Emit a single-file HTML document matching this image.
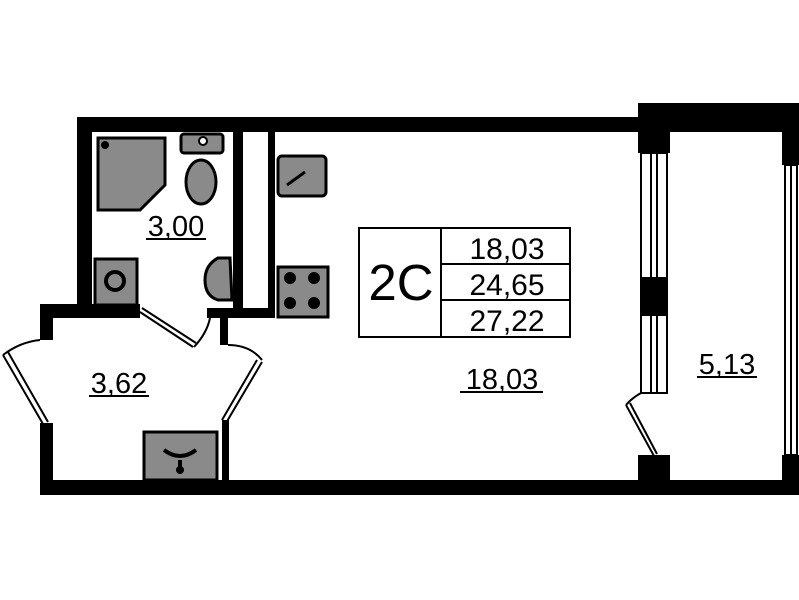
<!DOCTYPE html>
<html><head><meta charset="utf-8"><style>
html,body{margin:0;padding:0;background:#fff;}
svg{display:block;}
text{font-family:"Liberation Sans",Arial,sans-serif;fill:#000;}
</style></head><body>
<svg width="799" height="600" viewBox="0 0 799 600" xmlns="http://www.w3.org/2000/svg">
<rect width="799" height="600" fill="#fff"/>
<g fill="#000">
<rect x="77" y="117" width="563" height="15"/>
<rect x="77" y="117" width="15" height="201"/>
<rect x="40" y="304" width="100" height="14"/>
<rect x="40" y="304" width="13" height="36"/>
<rect x="40" y="423" width="13" height="72"/>
<rect x="40" y="480" width="759" height="15"/>
<rect x="233" y="117" width="10" height="201"/>
<rect x="268" y="117" width="7" height="201"/>
<rect x="233" y="308" width="42" height="10"/>
<rect x="207" y="308" width="30" height="10"/>
<rect x="220" y="308" width="8" height="37"/>
<rect x="222" y="420" width="7" height="62"/>
<rect x="638" y="103" width="161" height="29"/>
<rect x="638" y="103" width="32" height="50"/>
<rect x="782" y="103" width="17" height="62"/>
<rect x="640" y="278" width="28" height="37"/>
<rect x="638" y="455" width="32" height="40"/>
<rect x="782" y="455" width="17" height="40"/>
</g>
<g fill="none" stroke="#000" stroke-width="2">
<rect x="641" y="153" width="26" height="125"/>
<line x1="651" y1="153" x2="651" y2="278"/><line x1="657" y1="153" x2="657" y2="278"/>
<rect x="641" y="315" width="26" height="78"/>
<line x1="651" y1="315" x2="651" y2="393"/><line x1="657" y1="315" x2="657" y2="393"/>
<rect x="785" y="165" width="12" height="290"/>
<line x1="791" y1="165" x2="791" y2="455"/>
<path d="M641 393 Q632 398 626 405"/>
<path d="M626 405 L654 456 M630 403 L657 454"/>
<path d="M3 355 L43 424 M8 352 L48 422"/>
<path d="M3 355 Q20 342 40 340"/>
<path d="M262 362 L226 423 M257 360 L222 420"/>
<path d="M228 345 Q250 345 262 360"/>
<path d="M140 312 L193 347 M142 308 L196 343"/>
<path d="M194 347 Q207 333 210 318"/>
</g>
<g stroke="#000" stroke-width="3" fill="#8a8a8a">
<polygon points="98,138 165,138 165,185 140,210 98,210"/>
<rect x="181" y="134" width="42" height="19" rx="3"/>
<ellipse cx="201" cy="182" rx="15" ry="22"/>
<rect x="95" y="259" width="42" height="46"/>
<path d="M230 258 L218 258 Q205 265 205 280 Q205 296 218 300 L232 300 Z"/>
<rect x="278" y="156" width="48" height="40" rx="4"/>
<rect x="278" y="267" width="50" height="50"/>
<rect x="144" y="432" width="73" height="48"/>
</g>
<g fill="#000">
<circle cx="105" cy="145" r="4"/><circle cx="203" cy="141" r="4" fill="#fff" stroke="#000" stroke-width="2"/>
<circle cx="115" cy="281" r="9" fill="none" stroke="#000" stroke-width="4"/>
<circle cx="290" cy="278" r="6"/><circle cx="314" cy="278" r="6"/><circle cx="290" cy="303" r="6"/><circle cx="314" cy="303" r="6"/>
<circle cx="180" cy="470" r="4"/>
</g>
<path d="M164 450 Q180 462 196 450 M180 460 L180 470" stroke="#000" stroke-width="4" fill="none"/>
<path d="M287 185 L305 172" stroke="#000" stroke-width="3"/>
<g fill="none" stroke="#000" stroke-width="2">
<rect x="359" y="228" width="211" height="109"/>
<line x1="441" y1="228" x2="441" y2="337"/>
<line x1="441" y1="264" x2="570" y2="264"/>
<line x1="441" y1="300" x2="570" y2="300"/>
</g>
<text x="401" y="300" font-size="51" text-anchor="middle">2C</text>
<text x="507" y="259" font-size="30" text-anchor="middle">18,03</text>
<text x="507" y="295" font-size="30" text-anchor="middle">24,65</text>
<text x="507" y="331" font-size="30" text-anchor="middle">27,22</text>
<g font-size="29" text-anchor="middle">
<text x="176" y="236">3,00</text>
<text x="119" y="393">3,62</text>
<text x="502" y="389">18,03</text>
<text x="727" y="374">5,13</text>
</g>
<g stroke="#000" stroke-width="2">
<line x1="146" y1="239" x2="206" y2="239"/>
<line x1="89" y1="396" x2="149" y2="396"/>
<line x1="460" y1="392" x2="543" y2="392"/>
<line x1="697" y1="377" x2="757" y2="377"/>
</g>
</svg>
</body></html>
